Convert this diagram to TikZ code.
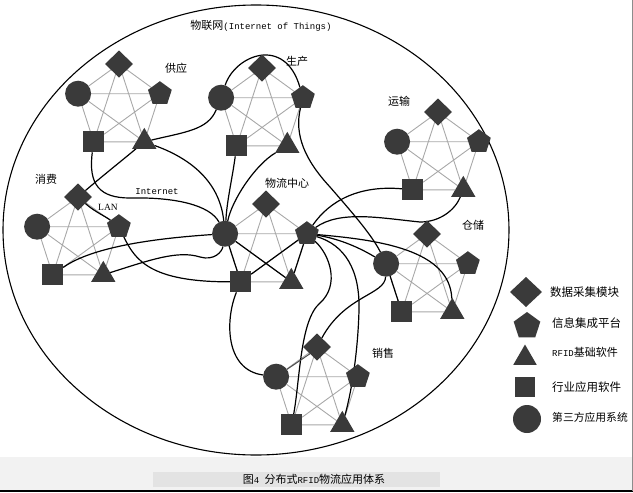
\documentclass[tikz,border=0pt]{standalone}
\usepackage{fontspec}
\setmainfont{Liberation Serif}
\newfontfamily\cjk{Noto Sans CJK SC}
\newfontfamily\mono{Liberation Mono}
\usetikzlibrary{shapes.geometric}
\pgfdeclarelayer{bg}\pgfsetlayers{bg,main}
\definecolor{shp}{HTML}{3A3A3A}
\definecolor{gline}{HTML}{A8A8A8}
\tikzset{
 shapebase/.style={fill=shp,draw=none,inner sep=0pt,outer sep=0pt},
 dia/.style={shapebase,diamond,minimum width=28pt,minimum height=27pt},
 pent/.style={shapebase,regular polygon,regular polygon sides=5,minimum size=25pt},
 tri/.style={shapebase,regular polygon,regular polygon sides=3,minimum size=28pt},
 sq/.style={shapebase,rectangle,minimum size=21pt},
 circ/.style={shapebase,circle,minimum size=26pt},
 gedge/.style={draw=gline,line width=0.9pt},
 link/.style={draw=black,line width=1.2pt},
 lbl/.style={font=\cjk\fontsize{11}{13}\selectfont,inner sep=0pt},
 lat/.style={font=\mono\fontsize{9}{10}\selectfont,inner sep=0pt},
 leg/.style={font=\cjk\fontsize{11.5}{13}\selectfont,inner sep=0pt,anchor=west},
}
\newcommand\mkcl[3]{%
 \node[dia] (#1d) at (#2,#3-43) {};
 \node[circ] (#1c) at (#2-40.9,#3-13.3) {};
 \node[pent] (#1p) at (#2+40.9,#3-13.3) {};
 \node[sq] (#1s) at (#2-25.3,#3+34.8) {};
 \node[tri] (#1t) at (#2+25.3,#3+34.8) {};
 \begin{pgfonlayer}{bg}
 \draw[gedge] (#1d)--(#1c) (#1d)--(#1p) (#1d)--(#1s) (#1d)--(#1t) (#1c)--(#1p)
   (#1c)--(#1s) (#1c)--(#1t) (#1p)--(#1s) (#1p)--(#1t) (#1s)--(#1t);
 \end{pgfonlayer}}
\begin{document}
\begin{tikzpicture}[x=1pt,y=-1pt]
\useasboundingbox (0,0) rectangle (633,493);
% bottom band and frame
\fill[black!5] (0,457) rectangle (633,490);
\fill[black!11] (153,472) rectangle (440,487);
\draw[line width=1.6pt] (0,491) -- (633,491);
\draw[black!45,line width=0.8pt] (632.5,0) -- (632.5,491);
% outer ellipse
\draw[line width=1.1pt] (256,230) ellipse [x radius=253pt, y radius=225pt];
% clusters
\mkcl{A}{119}{107}
\mkcl{B}{262}{111}
\mkcl{C}{438}{155}
\mkcl{D}{78}{240}
\mkcl{E}{266}{247}
\mkcl{F}{427}{277}
\mkcl{G}{317}{390}
% labels
\node[inner sep=0pt] (title) at (261,26) {{\cjk\fontsize{11}{13}\selectfont 物联网}{\mono\fontsize{9}{10}\selectfont (Internet of Things)}};
\node[lbl] (lA) at (176,68) {供应};
\node[lbl] (lB) at (297,61) {生产};
\node[lbl] (lC) at (399,101) {运输};
\node[lbl] (lD) at (46,179) {消费};
\node[lbl] (lE) at (287,183) {物流中心};
\node[lbl] (lF) at (473,225) {仓储};
\node[lbl] (lG) at (383,353) {销售};
\node[inner sep=0pt,font=\fontsize{9.5}{11}\selectfont] (lan) at (108,207) {LAN};
\node[lat] (inet) at (157,192) {Internet};
% connectors
\begin{pgfonlayer}{bg}
\draw[link] (As) .. controls (88,185) and (100,198) .. (130,198) .. controls (175,197) and (210,205) .. (Ec);
\draw[link] (At) .. controls (185,132) and (208,130) .. (Bc);
\draw[link] (At) .. controls (195,160) and (220,185) .. (Ec);
\draw[link] (At) .. controls (125,158) and (100,178) .. (Dd);
\draw[link] (Dd) .. controls (95,212) and (105,216) .. (Dp);
\draw[link] (Ds) .. controls (85,252) and (130,240) .. (Ec);
\draw[link] (Dt) .. controls (150,260) and (178,250) .. (200,257) .. controls (214,261) and (222,252) .. (Ec);
\draw[link] (Dp) .. controls (135,260) and (150,282) .. (Es);
\draw[link] (Bs) .. controls (232,180) and (227,200) .. (Ec);
\draw[link] (Bt) .. controls (255,165) and (232,200) .. (Ec);
\draw[link] (Bc) .. controls (235,55) and (285,35) .. (Bp);
\draw[link] (Bp) .. controls (294,135) and (305,160) .. (330,187) .. controls (350,210) and (372,235) .. (Fc);
\draw[link] (Ep) .. controls (330,200) and (360,185) .. (Cs);
\draw[link] (Ep) .. controls (340,210) and (380,218) .. (420,222) .. controls (440,222) and (455,210) .. (Ct);
\draw[link] (Ep) .. controls (380,240) and (450,250) .. (Ft);
\draw[link] (Ep) .. controls (335,238) and (355,245) .. (Fc);
\draw[link] (Ep) .. controls (330,255) and (340,285) .. (320,303) .. controls (300,320) and (300,380) .. (Gs);
\draw[link] (Ep) .. controls (345,245) and (360,270) .. (359,310) .. controls (358,350) and (352,390) .. (Gt);
\draw[link] (Fc) .. controls (385,295) and (345,295) .. (Gd);
\draw[link] (Es) .. controls (225,320) and (225,370) .. (Gc);
\draw[link] (Fc) -- (Fs);
\draw[link] (Ec) -- (Es) (Ec) -- (Et) (Ep) -- (Es) (Ep) -- (Et);
\draw[draw=black!70,line width=1pt] (Gd.south west) -- (Gc);
\end{pgfonlayer}
% legend
\node[dia,minimum width=32pt,minimum height=30pt] (k1) at (526,292) {};
\node[pent,minimum size=28pt] (k2) at (527,326) {};
\node[tri,minimum size=27pt] (k3) at (525,358) {};
\node[sq,minimum size=20pt] (k4) at (525,387) {};
\node[circ,minimum size=28pt] (k5) at (527,419) {};
\node[leg] (t1) at (550,292) {数据采集模块};
\node[leg] (t2) at (552,323) {信息集成平台};
\node[leg,font=\mono\fontsize{9}{10}\selectfont] (t3) at (552,352) {RFID{\cjk\fontsize{11}{13}\selectfont 基础软件}};
\node[leg] (t4) at (552,387) {行业应用软件};
\node[leg,font=\cjk\fontsize{10.8}{13}\selectfont] (t5) at (552,417) {第三方应用系统};
% caption
\node[inner sep=0pt] (cap) at (314,479) {{\cjk\fontsize{11}{13}\selectfont 图}{\mono\fontsize{9}{10}\selectfont 4 }{\cjk\fontsize{11}{13}\selectfont 分布式}{\mono\fontsize{9}{10}\selectfont RFID}{\cjk\fontsize{11}{13}\selectfont 物流应用体系}};
\end{tikzpicture}
\end{document}
